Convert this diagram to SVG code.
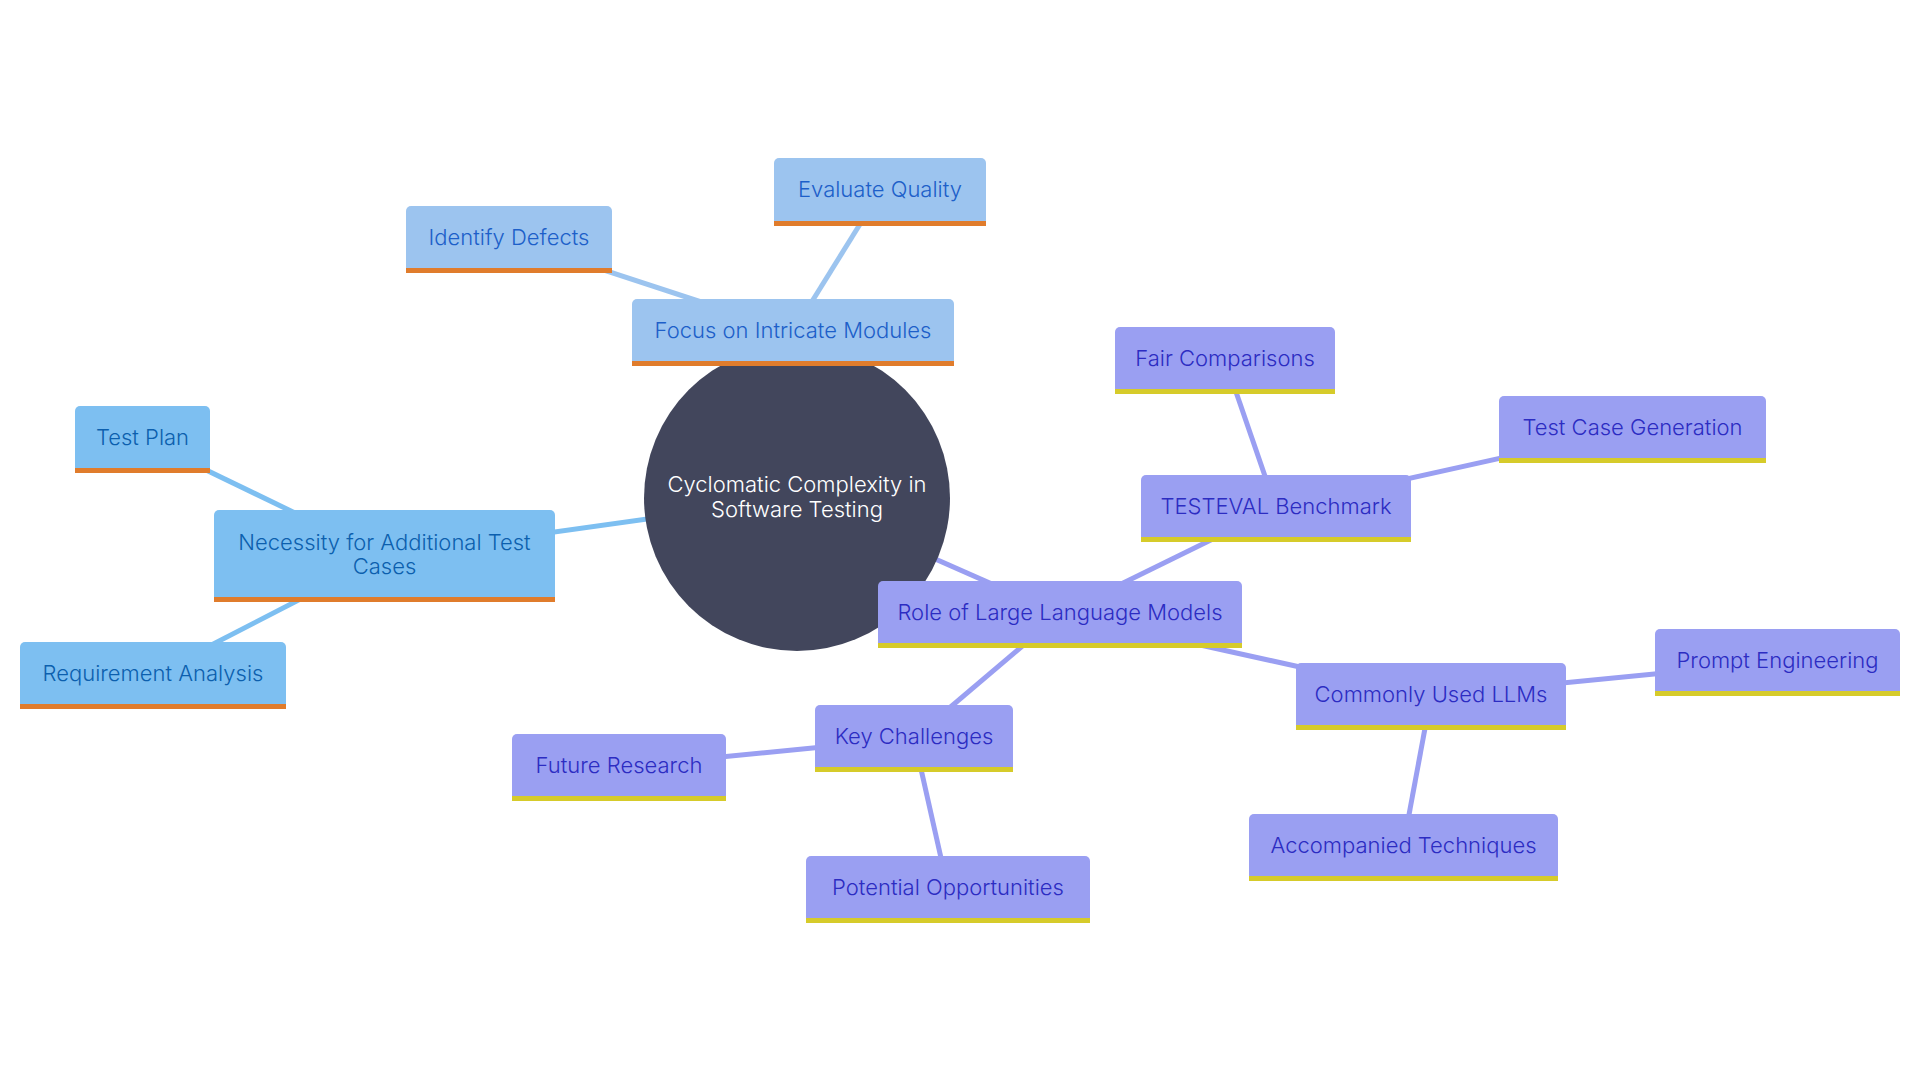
<svg xmlns="http://www.w3.org/2000/svg" width="1920" height="1080" viewBox="0 0 1920 1080">
<style>
.bg{fill:#ffffff}
.e{stroke-width:5;fill:none;stroke-linecap:butt}
.ea{stroke:#9CC4EF}
.eb{stroke:#7DBFF1}
.ep{stroke:#9A9FF2}
.fa{fill:#9CC4EF}
.fb{fill:#7DBFF1}
.fp{fill:#9A9FF2}
.bo{fill:#E07C2C}
.by{fill:#D6CB2A}
text{font-family:Inter,"Noto Sans","Liberation Sans",sans-serif;font-size:22px;font-weight:300;text-anchor:middle}
.ta{fill:#1D5FC9}
.tb{fill:#0C5FAE}
.tp{fill:#2C2CC2}
.tc{fill:#ffffff}
.root{fill:#42465C}
</style>
<rect class="bg" x="0" y="0" width="1920" height="1080"/>
<g id="connectors">
<line class="e ea" x1="797" y1="498" x2="793" y2="332"/>
<line class="e ea" x1="793" y1="332" x2="509" y2="239"/>
<line class="e ea" x1="793" y1="332" x2="880" y2="192"/>
<line class="e eb" x1="797" y1="498" x2="384" y2="556"/>
<line class="e eb" x1="384" y1="556" x2="142" y2="439"/>
<line class="e eb" x1="384" y1="556" x2="153" y2="675"/>
<line class="e ep" x1="797" y1="498" x2="1060" y2="614"/>
<line class="e ep" x1="1060" y1="614" x2="1276" y2="508"/>
<line class="e ep" x1="1276" y1="508" x2="1225" y2="360"/>
<line class="e ep" x1="1276" y1="508" x2="1632" y2="429"/>
<line class="e ep" x1="1060" y1="614" x2="1431" y2="696"/>
<line class="e ep" x1="1431" y1="696" x2="1777" y2="662"/>
<line class="e ep" x1="1431" y1="696" x2="1403" y2="847"/>
<line class="e ep" x1="1060" y1="614" x2="914" y2="738"/>
<line class="e ep" x1="914" y1="738" x2="619" y2="767"/>
<line class="e ep" x1="914" y1="738" x2="948" y2="889"/>
</g>
<g id="root">
<circle class="root" cx="797" cy="498" r="153"/>
<text class="tc" x="797" y="492">Cyclomatic Complexity in</text>
<text class="tc" x="797" y="517">Software Testing</text>
</g>
<g id="focus">
<rect class="fa" x="632" y="299" width="322" height="67" rx="5"/>
<rect class="bo" x="632" y="361" width="322" height="5"/>
<text class="ta" x="793" y="338">Focus on Intricate Modules</text>
</g>
<g id="identify">
<rect class="fa" x="406" y="206" width="206" height="67" rx="5"/>
<rect class="bo" x="406" y="268" width="206" height="5"/>
<text class="ta" x="509" y="245">Identify Defects</text>
</g>
<g id="evaluate">
<rect class="fa" x="774" y="158" width="212" height="68" rx="5"/>
<rect class="bo" x="774" y="221" width="212" height="5"/>
<text class="ta" x="880" y="197">Evaluate Quality</text>
</g>
<g id="necessity">
<rect class="fb" x="214" y="510" width="341" height="92" rx="5"/>
<rect class="bo" x="214" y="597" width="341" height="5"/>
<text class="tb" x="384.5" y="550">Necessity for Additional Test</text>
<text class="tb" x="384.5" y="574">Cases</text>
</g>
<g id="testplan">
<rect class="fb" x="75" y="406" width="135" height="67" rx="5"/>
<rect class="bo" x="75" y="468" width="135" height="5"/>
<text class="tb" x="142.5" y="445">Test Plan</text>
</g>
<g id="requirement">
<rect class="fb" x="20" y="642" width="266" height="67" rx="5"/>
<rect class="bo" x="20" y="704" width="266" height="5"/>
<text class="tb" x="153" y="681">Requirement Analysis</text>
</g>
<g id="role">
<rect class="fp" x="878" y="581" width="364" height="67" rx="5"/>
<rect class="by" x="878" y="643" width="364" height="5"/>
<text class="tp" x="1060" y="620">Role of Large Language Models</text>
</g>
<g id="testeval">
<rect class="fp" x="1141" y="475" width="270" height="67" rx="5"/>
<rect class="by" x="1141" y="537" width="270" height="5"/>
<text class="tp" x="1276" y="514">TESTEVAL Benchmark</text>
</g>
<g id="fair">
<rect class="fp" x="1115" y="327" width="220" height="67" rx="5"/>
<rect class="by" x="1115" y="389" width="220" height="5"/>
<text class="tp" x="1225" y="366">Fair Comparisons</text>
</g>
<g id="tcg">
<rect class="fp" x="1499" y="396" width="267" height="67" rx="5"/>
<rect class="by" x="1499" y="458" width="267" height="5"/>
<text class="tp" x="1632.5" y="435">Test Case Generation</text>
</g>
<g id="commonly">
<rect class="fp" x="1296" y="663" width="270" height="67" rx="5"/>
<rect class="by" x="1296" y="725" width="270" height="5"/>
<text class="tp" x="1431" y="702">Commonly Used LLMs</text>
</g>
<g id="prompt">
<rect class="fp" x="1655" y="629" width="245" height="67" rx="5"/>
<rect class="by" x="1655" y="691" width="245" height="5"/>
<text class="tp" x="1777.5" y="668">Prompt Engineering</text>
</g>
<g id="accompanied">
<rect class="fp" x="1249" y="814" width="309" height="67" rx="5"/>
<rect class="by" x="1249" y="876" width="309" height="5"/>
<text class="tp" x="1403.5" y="853">Accompanied Techniques</text>
</g>
<g id="key">
<rect class="fp" x="815" y="705" width="198" height="67" rx="5"/>
<rect class="by" x="815" y="767" width="198" height="5"/>
<text class="tp" x="914" y="744">Key Challenges</text>
</g>
<g id="future">
<rect class="fp" x="512" y="734" width="214" height="67" rx="5"/>
<rect class="by" x="512" y="796" width="214" height="5"/>
<text class="tp" x="619" y="773">Future Research</text>
</g>
<g id="potential">
<rect class="fp" x="806" y="856" width="284" height="67" rx="5"/>
<rect class="by" x="806" y="918" width="284" height="5"/>
<text class="tp" x="948" y="895">Potential Opportunities</text>
</g>
</svg>
